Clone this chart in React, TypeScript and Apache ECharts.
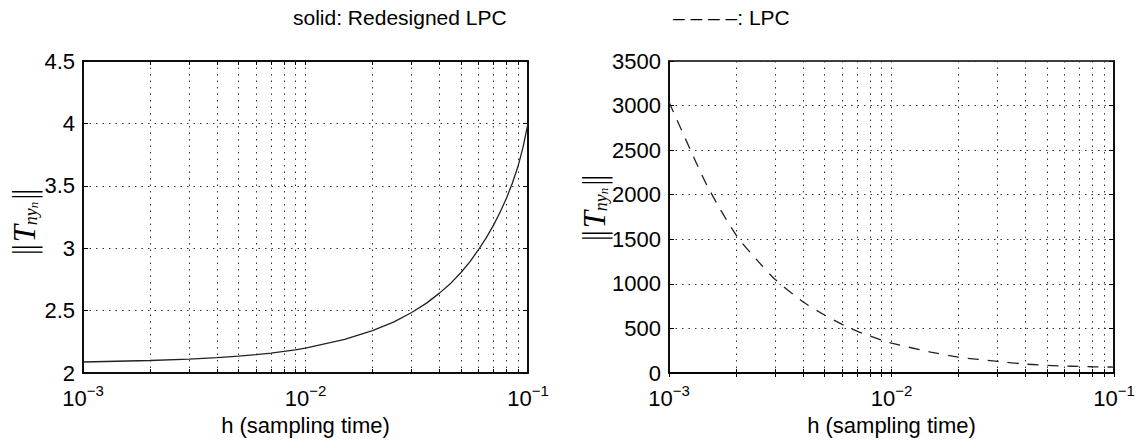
import React, { useEffect, useRef } from "react";
import * as echarts from "echarts";

// ---- data ----
const hRedesigned = [0.001, 0.002, 0.003, 0.004, 0.005, 0.006, 0.007, 0.008, 0.009, 0.01, 0.015, 0.02, 0.025, 0.03, 0.035, 0.04, 0.045, 0.05, 0.055, 0.06, 0.065, 0.07, 0.075, 0.08, 0.085, 0.09, 0.095, 0.1];
const normRedesigned = [2.088, 2.1, 2.111, 2.123, 2.135, 2.147, 2.16, 2.173, 2.186, 2.2, 2.27, 2.34, 2.41, 2.485, 2.56, 2.64, 2.72, 2.805, 2.895, 2.99, 3.085, 3.185, 3.29, 3.4, 3.52, 3.65, 3.81, 4.0];

const hLPC = [0.001, 0.00125, 0.0015, 0.002, 0.0025, 0.003, 0.004, 0.005, 0.006, 0.007, 0.008, 0.009, 0.01, 0.015, 0.02, 0.03, 0.04, 0.05, 0.06, 0.07, 0.08, 0.09, 0.1];
const normLPC = [3040, 2500, 2080, 1550, 1260, 1050, 800, 650, 545, 470, 415, 370, 335, 235, 178, 130, 100, 85, 78, 74, 70, 68, 67];

const xMajorTicks = [0.001, 0.01, 0.1];
const xAllTicks = [
  0.001, 0.002, 0.003, 0.004, 0.005, 0.006, 0.007, 0.008, 0.009,
  0.01, 0.02, 0.03, 0.04, 0.05, 0.06, 0.07, 0.08, 0.09, 0.1,
];
const exponentLabels: Record<string, string> = { "0.001": "−3", "0.01": "−2", "0.1": "−1" };

const titleLeft = "solid: Redesigned LPC";
const titleRight = "– – – –: LPC";
const xName = "h (sampling time)";

const FONT = "Liberation Sans, Arial, sans-serif";

export default function App() {
  const ref = useRef<HTMLDivElement>(null);
  useEffect(() => {
    document.body.style.margin = "0";
    if (!ref.current) return;
    const chart = echarts.init(ref.current, null, { renderer: "svg" });

    const gridLine = { show: true, lineStyle: { color: "#333", type: [1.5, 5] as any, width: 1 } };
    const mkX = (gi: number, top = false) => ({
      type: "log" as const,
      logBase: 10,
      min: 0.001,
      max: 0.1,
      gridIndex: gi,
      position: top ? ("top" as const) : ("bottom" as const),
      axisLine: { show: true, lineStyle: { color: "#000", width: 1.5 } },
      axisTick: { show: true, inside: true, length: 4, customValues: xAllTicks, lineStyle: { color: "#000", width: 1 } },
      minorTick: { show: false },
      axisLabel: top
        ? { show: false }
        : {
            show: true,
            customValues: xMajorTicks,
            margin: 10,
            formatter: (v: number) => `{b|10}{s|${exponentLabels[String(v)] ?? ""}}`,
            rich: {
              b: { fontSize: 22, fontFamily: FONT, color: "#000", lineHeight: 30 },
              s: { fontSize: 15, fontFamily: FONT, color: "#000", verticalAlign: "top", lineHeight: 15 },
            },
          },
      splitLine: top ? { show: false } : gridLine,
      name: top ? "" : xName,
      nameLocation: "middle" as const,
      nameGap: 41,
      nameTextStyle: { fontSize: 22, fontFamily: FONT, color: "#000" },
    });
    const mkY = (gi: number, min: number, max: number, interval: number, right = false) => ({
      type: "value" as const,
      gridIndex: gi,
      min,
      max,
      interval,
      position: right ? ("right" as const) : ("left" as const),
      axisLine: { show: true, lineStyle: { color: "#000", width: 1.5 } },
      axisTick: { show: true, inside: true, length: 5, lineStyle: { color: "#000", width: 1 } },
      axisLabel: right
        ? { show: false }
        : { show: true, fontSize: 22, fontFamily: FONT, color: "#000", margin: 8, formatter: (v: number) => String(v) },
      splitLine: right ? { show: false } : gridLine,
    });

    const yNameRich = {
      n: { fontSize: 30, fontFamily: "DejaVu Sans", fontWeight: 200, color: "#888" },
      t: { fontSize: 31, fontFamily: "Liberation Serif", fontStyle: "italic", color: "#444" },
      s: { fontSize: 18, fontFamily: "Liberation Serif", fontStyle: "italic", color: "#444", verticalAlign: "bottom", lineHeight: 14 },
      ss: { fontSize: 13, fontFamily: "Liberation Serif", fontStyle: "italic", color: "#444", verticalAlign: "bottom", lineHeight: 6 },
    };
    const yNameText = "{n|‖}{t|T}{s|ny}{ss|n}{n|‖}";

    chart.setOption({
      animation: false,
      backgroundColor: "#fff",
      grid: [
        { left: 83, top: 61, width: 445, height: 314, show: true, borderColor: "#000", borderWidth: 1.5, backgroundColor: "transparent" },
        { left: 669, top: 61, width: 445, height: 314, show: true, borderColor: "#000", borderWidth: 1.5, backgroundColor: "transparent" },
      ],
      xAxis: [mkX(0), mkX(1), mkX(0, true), mkX(1, true)],
      yAxis: [mkY(0, 2, 4.5, 0.5), mkY(1, 0, 3500, 500), mkY(0, 2, 4.5, 0.5, true), mkY(1, 0, 3500, 500, true)],
      series: [
        {
          type: "line",
          xAxisIndex: 0,
          yAxisIndex: 0,
          data: hRedesigned.map((h, i) => [h, normRedesigned[i]]),
          showSymbol: false,
          smooth: false,
          lineStyle: { color: "#222", width: 1.3, type: "solid" },
        },
        {
          type: "line",
          xAxisIndex: 1,
          yAxisIndex: 1,
          data: hLPC.map((h, i) => [h, normLPC[i]]),
          showSymbol: false,
          smooth: 0.3,
          lineStyle: { color: "#222", width: 1.3, type: [11, 9] as any },
        },
      ],
      graphic: [
        { type: "text", left: 293, top: 7, style: { text: titleLeft, fontSize: 21, fontFamily: FONT, fill: "#000" } },
        { type: "text", left: 673, top: 7, style: { text: titleRight, fontSize: 21, fontFamily: FONT, fill: "#000" } },
        {
          type: "text",
          x: 24,
          y: 222,
          rotation: Math.PI / 2,
          style: { text: yNameText, rich: yNameRich as any, align: "center", verticalAlign: "middle" },
        },
        {
          type: "text",
          x: 594,
          y: 208,
          rotation: Math.PI / 2,
          style: { text: yNameText, rich: yNameRich as any, align: "center", verticalAlign: "middle" },
        },
      ],
    });
    return () => chart.dispose();
  }, []);
  return <div ref={ref} style={{ width: 1140, height: 441 }} />;
}
